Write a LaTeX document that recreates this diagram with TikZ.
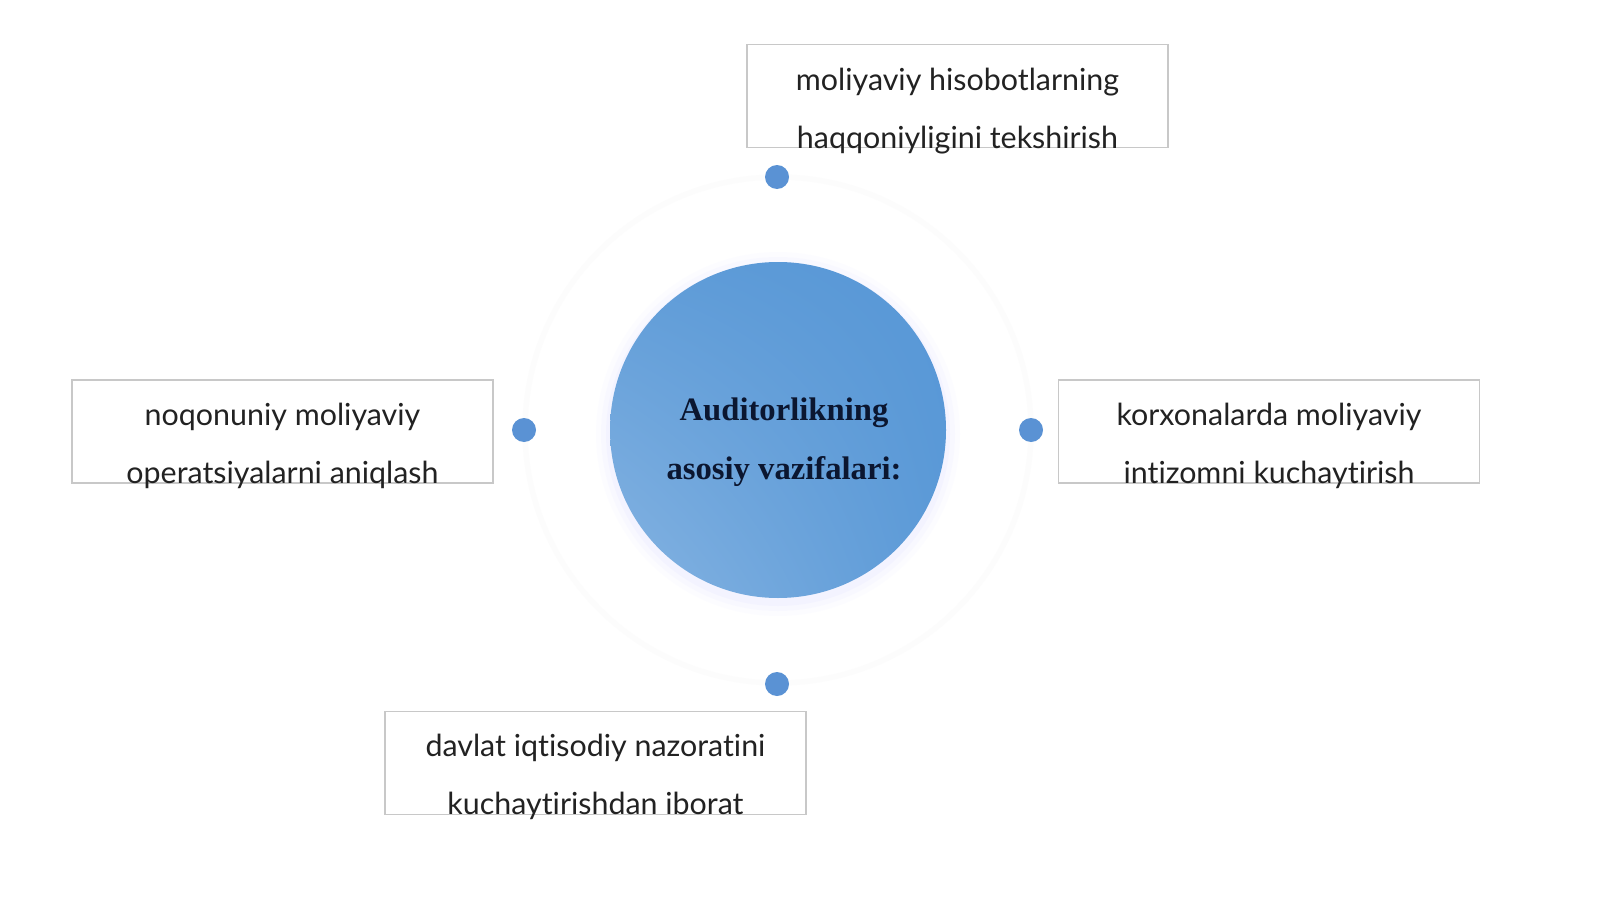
\documentclass[tikz,border=0pt]{standalone}
\usepackage{fontspec}
\newfontfamily\latofont[Ligatures=NoCommon]{Lato}
\newfontfamily\serifbold{Liberation Serif}
\usetikzlibrary{shadings}
\definecolor{dotblue}{HTML}{5A92D4}
\definecolor{circA}{HTML}{5797D6}
\definecolor{circB}{HTML}{86B4E2}
\definecolor{boxline}{HTML}{C8C8C8}
\definecolor{txt}{HTML}{222222}
\definecolor{ctxt}{HTML}{0B1630}
\tikzset{
  taskbox/.style={draw=boxline, line width=0.8pt, fill=white, minimum width=315.75pt, minimum height=77.25pt, inner sep=0pt},
  tasktext/.style={font=\latofont\fontsize{22.8}{43.5}\selectfont, text=txt, align=center, inner sep=0pt},
  dotnode/.style={circle, fill=dotblue, minimum size=18pt, inner sep=0pt},
  ring/.style={draw=gray!2.5, line width=4pt}
}
\begin{document}
\begin{tikzpicture}[x=0.75pt,y=-0.75pt]
\useasboundingbox (0,0) rectangle (1600,899);
\fill[white] (0,0) rectangle (1600,899);
% faint ring
\draw[ring] (778,430) circle (253);
% soft glow around circle
\foreach \r/\o in {182/0.03,177/0.05,172/0.07}{
  \fill[blue!25!white, opacity=\o] (778,434) circle (\r);
}
% central circle
\shade[upper right=circA, lower left=circB, upper left=circA!95!white, lower right=circA!90!circB] (778,430) circle (168);
\node[circle, minimum size=252pt, inner sep=0pt] (center) at (778,430) {};
\node[font=\serifbold\bfseries\fontsize{24.5}{44}\selectfont, text=ctxt, align=center, inner sep=0pt] (ctext) at (784,442) {Auditorlikning\\asosiy vazifalari:};
% dots
\node[dotnode] (dtop) at (777,177) {};
\node[dotnode] (dleft) at (524,430) {};
\node[dotnode] (dright) at (1031,430) {};
\node[dotnode] (dbot) at (777,684) {};
% boxes
\node[taskbox] (btop) at (957.5,96) {};
\node[taskbox] (bleft) at (282.5,431.5) {};
\node[taskbox] (bright) at (1269,431.5) {};
\node[taskbox] (bbot) at (595.5,763) {};
% texts
\node[tasktext] (ttop) at (957.5,111) {moliyaviy hisobotlarning\\haqqoniyligini tekshirish};
\node[tasktext] (tleft) at (282.5,446) {noqonuniy moliyaviy\\operatsiyalarni aniqlash};
\node[tasktext] (tright) at (1269,446) {korxonalarda moliyaviy\\intizomni kuchaytirish};
\node[tasktext] (tbot) at (595.5,777) {davlat iqtisodiy nazoratini\\kuchaytirishdan iborat};
\end{tikzpicture}
\end{document}
